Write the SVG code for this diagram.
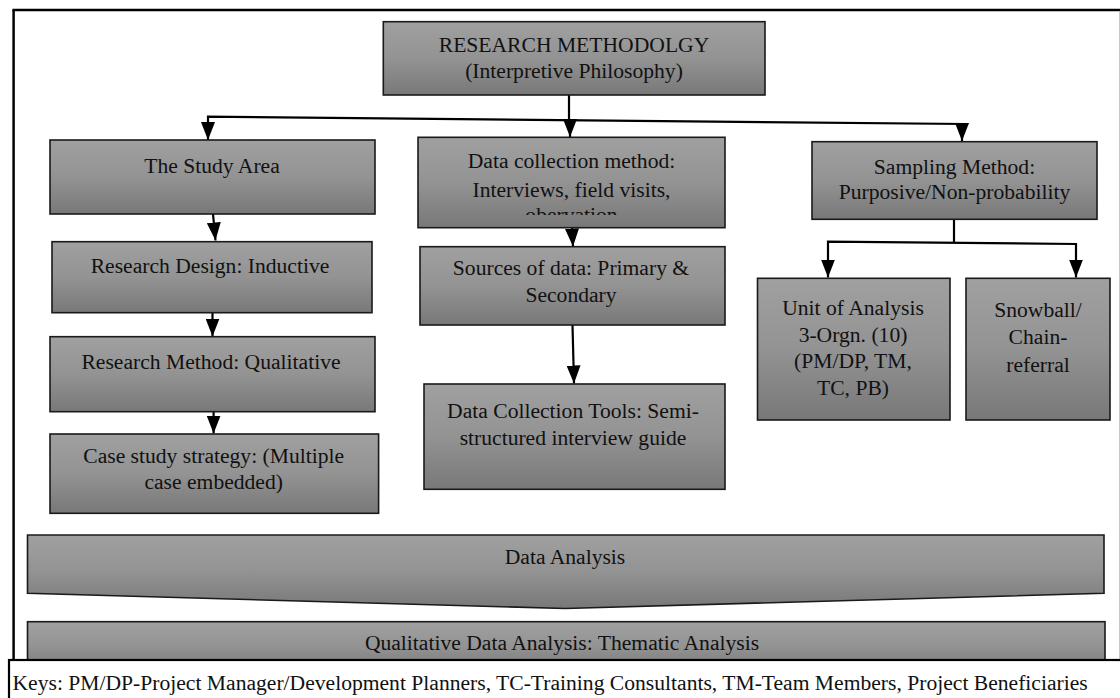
<svg xmlns="http://www.w3.org/2000/svg" width="1120" height="698" viewBox="0 0 1120 698">
<style>
.box{fill:url(#g);stroke:#1a1a1a;stroke-width:1.6}
.t{font-family:"Liberation Serif","Times New Roman",serif;font-size:21.6px;fill:#111;text-anchor:middle}
.c{fill:none;stroke:#000;stroke-width:2.2}
.a{marker-end:url(#arr)}
</style>
<defs>
<linearGradient id="g" x1="0" y1="0" x2="0" y2="1">
<stop offset="0" stop-color="#a0a0a0"/>
<stop offset="0.5" stop-color="#939393"/>
<stop offset="1" stop-color="#787878"/>
</linearGradient>
<marker id="arr" markerUnits="userSpaceOnUse" viewBox="0 0 18 14" refX="18" refY="7" markerWidth="18" markerHeight="14" orient="auto">
<path d="M0,0 L18,7 L0,14 z" fill="#000"/>
</marker>
<clipPath id="dcclip"><rect x="418" y="137" width="307" height="78"/></clipPath>
</defs>
<rect x="0" y="0" width="1120" height="698" fill="#fff"/>
<g id="frame">
<line x1="12.4" y1="10" x2="1120" y2="10" stroke="#000" stroke-width="2.5"/>
<line x1="13.6" y1="10" x2="13.6" y2="660" stroke="#000" stroke-width="2.5"/>
<line x1="1119.5" y1="11" x2="1119.5" y2="660" stroke="#c8c8c8" stroke-width="1"/>
</g>
<g id="connectors">
<path class="c" d="M569,95 L569,120"/>
<path class="c a" d="M966,124 L208,116.7 L208,140"/>
<path class="c a" d="M570,120 L570,137"/>
<path class="c a" d="M962,123.6 L962,141"/>
<path class="c a" d="M213,214 L215.5,240.5"/>
<path class="c a" d="M212.5,312.7 L212.5,336.5"/>
<path class="c a" d="M213.6,411.7 L213.6,433.5"/>
<path class="c a" d="M572,227.7 L573,246.5"/>
<path class="c a" d="M572.5,325 L574,383.5"/>
<path class="c" d="M954,219 L954,242.7"/>
<path class="c a" d="M1076,244 L828,241.7 L828,277.5"/>
<path class="c a" d="M1076,243 L1076,277.5"/>
</g>
<g id="n-root">
<rect class="box" x="383.3" y="21.7" width="381.7" height="73.3"/>
<text class="t" x="574" y="51.7">RESEARCH METHODOLGY</text>
<text class="t" x="574" y="78">(Interpretive Philosophy)</text>
</g>
<g id="n-study-area">
<rect class="box" x="50" y="140" width="325" height="74"/>
<text class="t" x="212" y="173">The Study Area</text>
</g>
<g id="n-data-collection">
<rect class="box" x="418" y="137.3" width="307" height="90.4"/>
<g clip-path="url(#dcclip)">
<text class="t" x="571.5" y="167.7">Data collection method:</text>
<text class="t" x="571.5" y="196.7">Interviews, field visits,</text>
<text class="t" x="571.5" y="222">obervation</text>
</g>
</g>
<g id="n-sampling">
<rect class="box" x="812" y="141.7" width="285" height="77.6"/>
<text class="t" x="954.5" y="174">Sampling Method:</text>
<text class="t" x="954.5" y="199">Purposive/Non-probability</text>
</g>
<g id="n-research-design">
<rect class="box" x="52" y="241.7" width="320" height="71"/>
<text class="t" x="210" y="272.7">Research Design: Inductive</text>
</g>
<g id="n-research-method">
<rect class="box" x="50" y="336.7" width="325" height="75"/>
<text class="t" x="211" y="369.3">Research Method: Qualitative</text>
</g>
<g id="n-case-study">
<rect class="box" x="50" y="434" width="328.6" height="79.3"/>
<text class="t" x="213.7" y="462.7">Case study strategy: (Multiple</text>
<text class="t" x="213.7" y="489.3">case embedded)</text>
</g>
<g id="n-sources">
<rect class="box" x="420" y="246.7" width="305" height="78.3"/>
<text class="t" x="571" y="275">Sources of data: Primary &amp;</text>
<text class="t" x="571" y="301.7">Secondary</text>
</g>
<g id="n-tools">
<rect class="box" x="424" y="384" width="301" height="105.3"/>
<text class="t" x="573" y="418.3">Data Collection Tools: Semi-</text>
<text class="t" x="573" y="445">structured interview guide</text>
</g>
<g id="n-unit">
<rect class="box" x="757.5" y="278.3" width="192.5" height="141.7"/>
<text class="t" x="853" y="315">Unit of Analysis</text>
<text class="t" x="853" y="341.7">3-Orgn. (10)</text>
<text class="t" x="853" y="368.3">(PM/DP, TM,</text>
<text class="t" x="853" y="395">TC, PB)</text>
</g>
<g id="n-snowball">
<rect class="box" x="966" y="278.3" width="144" height="141.7"/>
<text class="t" x="1038" y="317.3">Snowball/</text>
<text class="t" x="1038" y="344.3">Chain-</text>
<text class="t" x="1038" y="371.7">referral</text>
</g>
<g id="n-data-analysis">
<path class="box" d="M27.5,535 L1104,535 L1104,593.3 L565,608.5 L27.5,593.3 Z"/>
<text class="t" x="565" y="564.3">Data Analysis</text>
</g>
<g id="n-qualitative">
<rect class="box" x="27.5" y="621.7" width="1077.5" height="50"/>
<text class="t" x="562" y="650">Qualitative Data Analysis: Thematic Analysis</text>
</g>
<g id="keys">
<rect x="9" y="660" width="1120" height="60" fill="#fff" stroke="#000" stroke-width="2.2"/>
<text class="t" x="12.5" y="690" style="text-anchor:start">Keys: PM/DP-Project Manager/Development Planners, TC-Training Consultants, TM-Team Members, Project Beneficiaries</text>
</g>
</svg>
